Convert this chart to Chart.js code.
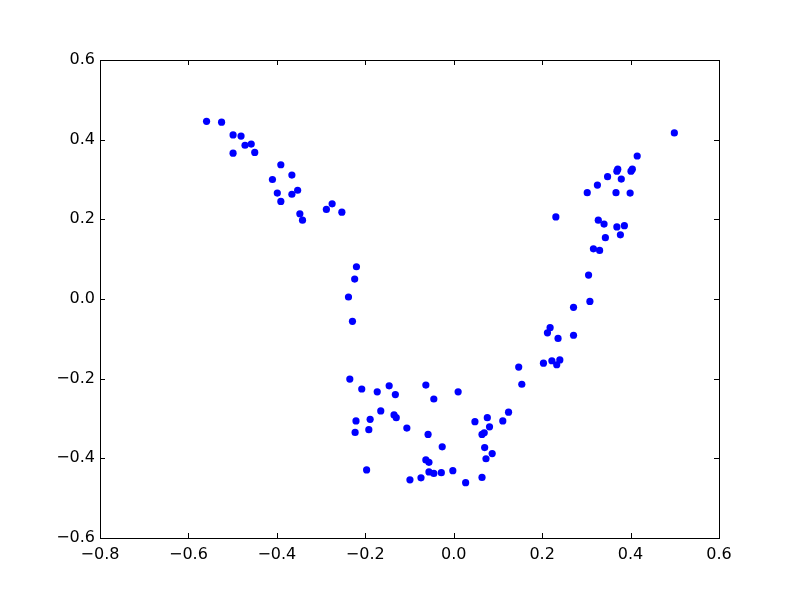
<!DOCTYPE html>
<html>
<head>
<meta charset="utf-8">
<script src="https://cdn.jsdelivr.net/npm/chart.js@4"></script>
<style>
  html, body { margin: 0; padding: 0; background: #fff; }
  #wrap { width: 800px; height: 600px; }
</style>
</head>
<body>
<div id="wrap"><canvas id="scatter" width="800" height="600"></canvas></div>
<script>
// Point values
const xValues = [
    -0.559, -0.525, -0.499, -0.481, -0.472, -0.458, -0.499, -0.450, -0.391, -0.366,
    -0.410, -0.399, -0.353, -0.366, -0.391, -0.348, -0.342, -0.288, -0.275, -0.253,
    -0.220, -0.224, -0.238, -0.229, -0.235, -0.208, -0.173, -0.146, -0.132, -0.063,
    -0.045, 0.010, -0.165, -0.135, -0.130, -0.221, -0.189, -0.223, -0.192, -0.106,
    -0.058, -0.026, -0.063, -0.056, -0.197, -0.099, -0.074, -0.056, -0.045, -0.028,
    -0.002, 0.027, 0.064, 0.048, 0.076, 0.081, 0.111, 0.124, 0.064, 0.069,
    0.070, 0.087, 0.073, 0.147, 0.154, 0.203, 0.222, 0.233, 0.240, 0.212,
    0.218, 0.236, 0.271, 0.271, 0.308, 0.305, 0.231, 0.316, 0.330, 0.343,
    0.377, 0.327, 0.340, 0.369, 0.386, 0.302, 0.367, 0.399, 0.325, 0.348,
    0.379, 0.371, 0.369, 0.404, 0.401, 0.415, 0.499
];
const yValues = [
    0.446, 0.444, 0.412, 0.409, 0.386, 0.389, 0.366, 0.368, 0.337, 0.311,
    0.300, 0.266, 0.273, 0.263, 0.245, 0.214, 0.198, 0.225, 0.239, 0.218,
    0.081, 0.050, 0.005, -0.056, -0.201, -0.226, -0.233, -0.218, -0.240, -0.216,
    -0.251, -0.233, -0.281, -0.291, -0.298, -0.306, -0.302, -0.335, -0.328, -0.324,
    -0.340, -0.371, -0.404, -0.410, -0.429, -0.454, -0.449, -0.434, -0.438, -0.436,
    -0.431, -0.461, -0.448, -0.308, -0.298, -0.321, -0.306, -0.284, -0.340, -0.336,
    -0.373, -0.388, -0.401, -0.171, -0.214, -0.161, -0.155, -0.165, -0.153, -0.085,
    -0.072, -0.099, -0.091, -0.021, -0.006, 0.060, 0.206, 0.126, 0.122, 0.154,
    0.161, 0.198, 0.188, 0.181, 0.184, 0.267, 0.267, 0.266, 0.286, 0.307,
    0.301, 0.326, 0.321, 0.326, 0.321, 0.359, 0.417
];
const xTicks = [-0.8, -0.6, -0.4, -0.2, 0.0, 0.2, 0.4, 0.6];
const yTicks = [-0.6, -0.4, -0.2, 0.0, 0.2, 0.4, 0.6];

const points = xValues.map((x, i) => ({ x: x, y: yValues[i] }));

// matplotlib style labels with a real minus sign
function fmt(v) {
    const s = Math.abs(v).toFixed(1);
    return v < -1e-9 ? '\u2212' + s : s;
}

// Frame and inward ticks on all four sides
Chart.register({
    id: 'mplFrame',
    afterDatasetsDraw(chart) {
        const { ctx, chartArea: a } = chart;
        const xs = chart.scales.x;
        const ys = chart.scales.y;
        const len = 5;
        ctx.save();
        ctx.strokeStyle = '#000';
        ctx.lineWidth = 1;
        ctx.beginPath();
        xTicks.forEach(v => {
            const px = Math.round(xs.getPixelForValue(v)) + 0.5;
            ctx.moveTo(px, a.bottom); ctx.lineTo(px, a.bottom - len);
            ctx.moveTo(px, a.top); ctx.lineTo(px, a.top + len);
        });
        yTicks.forEach(v => {
            const py = Math.round(ys.getPixelForValue(v)) + 0.5;
            ctx.moveTo(a.left, py); ctx.lineTo(a.left + len, py);
            ctx.moveTo(a.right, py); ctx.lineTo(a.right - len, py);
        });
        ctx.stroke();
        ctx.strokeRect(Math.round(a.left) + 0.5, Math.round(a.top) + 0.5,
            Math.round(a.right - a.left), Math.round(a.bottom - a.top));
        ctx.restore();
    },
});

new Chart(document.getElementById('scatter').getContext('2d'), {
    type: 'scatter',
    data: {
        datasets: [{
            data: points,
            backgroundColor: '#0000ff',
            borderColor: '#0000ff',
            borderWidth: 0,
            pointRadius: 3.6,
            pointHoverRadius: 3.6,
        }],
    },
    options: {
        responsive: false,
        animation: false,
        layout: { padding: { left: 0, right: 81, top: 60, bottom: 0 } },
        plugins: {
            legend: { display: false },
            tooltip: { enabled: false },
        },
        scales: {
            x: {
                type: 'linear',
                min: -0.8,
                max: 0.6,
                afterBuildTicks: (scale) => { scale.ticks = xTicks.map(v => ({ value: v })); },
                afterFit: (scale) => { scale.height = 62; },
                grid: { display: false, drawTicks: false },
                border: { display: false },
                ticks: {
                    padding: 7,
                    color: '#000',
                    font: { family: 'DejaVu Sans', size: 16 },
                    callback: (v) => fmt(v),
                    maxRotation: 0,
                },
            },
            y: {
                type: 'linear',
                min: -0.6,
                max: 0.6,
                afterBuildTicks: (scale) => { scale.ticks = yTicks.map(v => ({ value: v })); },
                afterFit: (scale) => { scale.width = 100; },
                grid: { display: false, drawTicks: false },
                border: { display: false },
                ticks: {
                    padding: 5,
                    color: '#000',
                    font: { family: 'DejaVu Sans', size: 16 },
                    callback: (v) => fmt(v),
                },
            },
        },
    },
});
</script>
</body>
</html>
